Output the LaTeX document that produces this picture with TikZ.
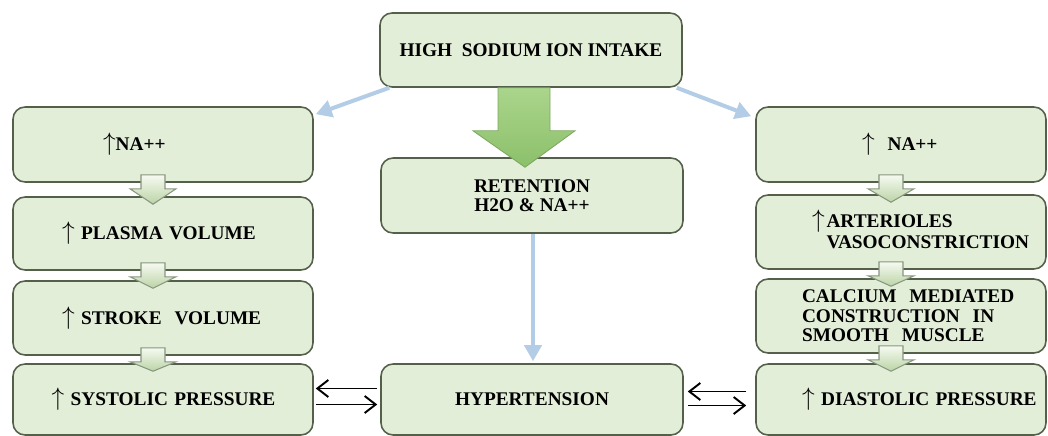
\documentclass[tikz,border=0pt]{standalone}
\usepackage{fontspec}
\setmainfont{Liberation Serif}
\usepackage{tikz}
\usetikzlibrary{arrows.meta, calc, positioning}
\definecolor{boxfill}{HTML}{E3EED9}
\definecolor{boxline}{HTML}{55604B}
\definecolor{linkblue}{HTML}{B3CDE6}
\definecolor{hollowtop}{HTML}{F6FAF1}
\definecolor{hollowbot}{HTML}{BBD4A6}
\definecolor{hollowline}{HTML}{87967E}
\definecolor{bigtop}{HTML}{AAD58C}
\definecolor{bigbot}{HTML}{8CC06A}
\definecolor{bigline}{HTML}{7EA860}

\begin{document}
\begin{tikzpicture}[x=0.02cm, y=-0.02cm, font=\bfseries\fontsize{11}{11}\selectfont,
    box/.style={draw=boxline, fill=boxfill, line width=0.9pt, rounded corners=0.24cm, minimum width=6.04cm, minimum height=1.48cm, inner sep=0pt, align=center},
    leftbox/.style={box, minimum width=6cm, text width=5.9cm, align=left},
    rightbox/.style={box, minimum width=5.8cm, text width=5.7cm, align=left},
    link/.style={draw=linkblue, line width=0.08cm, -{Triangle[length=0.32cm, width=0.34cm]}},
    swap/.style={line width=1.1pt, -{Straight Barb[length=0.22cm, width=0.34cm]}},
    hollow/.style={draw=hollowline, line width=0.6pt, top color=hollowtop, bottom color=hollowbot},
    bigarrow/.style={draw=bigline, line width=0.5pt, top color=bigtop, bottom color=bigbot}]
    \useasboundingbox (0,0) rectangle (1048,436);
    \def\upmark{{\fontsize{14}{14}\selectfont$\uparrow$}}
    \def\blockdown#1#2{\draw[hollow] ($(#1.south)+(-22,-8)$) -- ++(24,0) -- ++(0,14) -- ++(11,0) -- ($(#2.north)+(-10,8)$) -- ($(#1.south)+(-33,6)$) -- ++(11,0) -- cycle;}

    \node[box] (intake) at (531,50) {HIGH~~SODIUM ION INTAKE};
    \node[box, minimum height=1.5cm] (retain) at (532,195.5) {RETENTION\\ H2O \& NA++};
    \node[box, minimum height=1.42cm] (hyper) at (532,399.5) {HYPERTENSION};

    \node[leftbox, minimum height=1.5cm] (lna) at (163,144.5) {\hspace*{1.75cm}\upmark NA++};
    \node[leftbox, minimum height=1.46cm] (plasma) at (163,233.5) {\hspace*{0.93cm}\upmark\ PLASMA VOLUME};
    \node[leftbox] (stroke) at (163,318) {\hspace*{0.93cm}\upmark\ STROKE~~VOLUME};
    \node[leftbox, minimum height=1.42cm] (systolic) at (163,399.5) {\hspace*{0.72cm}\upmark\ SYSTOLIC PRESSURE};

    \node[rightbox, minimum height=1.5cm] (rna) at (901,144.5) {\hspace*{2.07cm}\upmark\ \ NA++};
    \node[rightbox] (arteri) at (901,232) {\hspace*{1.36cm}\llap{\smash{\upmark}\hspace{1pt}}ARTERIOLES\\[1pt]\hspace*{1.36cm}VASOCONSTRICTION};
    \node[rightbox] (calcium) at (901,316) {\hspace*{0.87cm}CALCIUM~~MEDIATED\\\hspace*{0.87cm}CONSTRUCTION~~IN\\\hspace*{0.87cm}SMOOTH~~MUSCLE};
    \node[rightbox, minimum height=1.42cm] (diastolic) at (901,399.5) {\hspace*{0.87cm}\upmark\ DIASTOLIC PRESSURE};

    \draw[link] ($(intake.south west)+(10,0)$) -- ($(lna.north east)+(2,8)$);
    \draw[link] ($(intake.south east)+(-6,0)$) -- ($(rna.north west)+(-4,10)$);
    \draw[link] ($(retain.south)+(1,0)$) -- ($(hyper.north)+(1,-2)$);

    \draw[bigarrow] ($(intake.south)+(-33,0)$) -- ++(52,0) -- ++(0,43) -- ++(25,0) -- ($(retain.north)+(-7,10)$) -- ($(intake.south)+(-58,43)$) -- ++(25,0) -- cycle;

    \blockdown{lna}{plasma}
    \blockdown{plasma}{stroke}
    \blockdown{stroke}{systolic}
    \blockdown{rna}{arteri}
    \blockdown{arteri}{calcium}
    \blockdown{calcium}{diastolic}

    \draw[swap] ($(hyper.west)+(-3,-11)$) -- ($(systolic.east)+(2,-11)$);
    \draw[swap] ($(systolic.east)+(2,5)$) -- ($(hyper.west)+(-3,5)$);
    \draw[swap] ($(diastolic.west)+(-9,-8)$) -- ($(hyper.east)+(4,-8)$);
    \draw[swap] ($(hyper.east)+(4,6)$) -- ($(diastolic.west)+(-9,6)$);
\end{tikzpicture}
\end{document}
